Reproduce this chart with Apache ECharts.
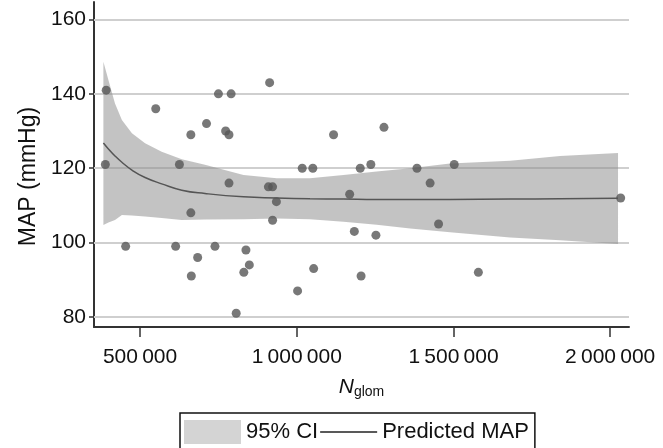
<!DOCTYPE html>
<html>
<head>
<meta charset="utf-8">
<script src="https://cdn.jsdelivr.net/npm/echarts@6/dist/echarts.min.js"></script>
<style>
  html, body { margin: 0; padding: 0; background: #fff; }
  #chart { width: 663px; height: 448px; }
</style>
</head>
<body>
<div id="chart"></div>
<script>
// Observed points (Nglom, MAP)
var pointsX = [391900, 389200, 454000, 550000, 613500, 625600, 662000, 662000, 663500, 683700,
               712000, 739000, 750000, 773000, 783700, 790500, 783700, 806700, 831000, 837800,
               848600, 913400, 909400, 922800, 922800, 935000, 1002600, 1017400, 1051200, 1053900,
               1117400, 1168700, 1183600, 1202500, 1205200, 1236300, 1252500, 1278200, 1383500, 1425400,
               1452400, 1502400, 1579400, 2033400];
var pointsY = [141, 121, 99, 136, 99, 121, 129, 108, 91, 96,
               132, 99, 140, 130, 129, 140, 116, 81, 92, 98,
               94, 143, 115, 115, 106, 111, 87, 120, 120, 93,
               129, 113, 103, 120, 91, 121, 102, 131, 120, 116,
               105, 121, 92, 112];

// Fitted curve and 95% CI band
var fitX = [383000, 399000, 420000, 442000, 474000, 516000, 569000, 633000, 707000, 830000,
            936000, 1042000, 1149000, 1255000, 1362000, 1489000, 1681000, 1840000, 2025000];
var ciUpper = [148.6, 143.7, 137.4, 133.0, 129.4, 126.7, 124.4, 122.4, 120.9, 118.2,
               117.3, 117.3, 118.2, 119.1, 120.0, 121.3, 122.0, 123.3, 124.1];
var ciLower = [104.7, 105.4, 106.1, 107.4, 107.3, 107.0, 106.6, 106.1, 106.2, 106.3,
               106.5, 106.3, 105.6, 104.8, 103.8, 102.8, 101.4, 100.6, 99.6];
var predicted = [126.8, 125.2, 123.3, 121.6, 119.5, 117.5, 115.8, 114.1, 113.2, 112.3,
                 112.0, 111.8, 111.7, 111.6, 111.6, 111.6, 111.7, 111.8, 111.9];

var xTicks = [500000, 1000000, 1500000, 2000000];
var yTicks = [80, 100, 120, 140, 160];

var font = 'Liberation Sans, Arial, Helvetica, sans-serif';

function fmtThousands(v) {
    return String(v).replace(/\B(?=(\d{3})+(?!\d))/g, '\u2009');
}

var chart = echarts.init(document.getElementById('chart'));

var scatterData = pointsX.map(function(x, i) { return [x, pointsY[i]]; });
var predData = fitX.map(function(x, i) { return [x, predicted[i]]; });

// band polygon: upper edge left->right, lower edge right->left
var renderBand = function(params, api) {
    var pts = [];
    for (var i = 0; i < fitX.length; i++) {
        pts.push(api.coord([fitX[i], ciUpper[i]]));
    }
    for (var j = fitX.length - 1; j >= 0; j--) {
        pts.push(api.coord([fitX[j], ciLower[j]]));
    }
    return {
        type: 'polygon',
        shape: { points: pts },
        style: { fill: 'rgba(140,140,140,0.52)' }
    };
};

chart.setOption({
    animation: false,
    textStyle: { fontFamily: font },

    grid: { left: 94, right: 34, top: 2, bottom: 121 },

    legend: {
        left: 180,
        top: 413,
        orient: 'horizontal',
        selectedMode: false,
        borderColor: '#111',
        borderWidth: 1.5,
        borderRadius: 0,
        padding: [7, 6, 7, 4],
        itemWidth: 57,
        itemHeight: 24,
        itemGap: 2,
        textStyle: { fontFamily: font, fontSize: 22, color: '#111' },
        data: [
            { name: '95% CI', icon: 'rect', itemStyle: { color: '#d4d4d4', borderWidth: 0 } },
            { name: 'Predicted MAP', icon: 'path://M0,0L57,0L57,1.6L0,1.6Z', itemStyle: { color: '#222', borderWidth: 0 } }
        ]
    },

    xAxis: {
        type: 'value',
        min: 353000,
        max: 2060000,
        name: '{n|N}{s|glom}',
        nameLocation: 'middle',
        nameGap: 50,
        nameTextStyle: {
            rich: {
                n: { fontFamily: font, fontSize: 21, fontStyle: 'italic', color: '#111', lineHeight: 22, verticalAlign: 'top' },
                s: { fontFamily: font, fontSize: 14, color: '#111', lineHeight: 20, verticalAlign: 'bottom', padding: [8, 0, 0, 0] }
            }
        },
        axisLine: { lineStyle: { color: '#333', width: 2 } },
        axisTick: { show: true, length: 10, lineStyle: { color: '#333', width: 1.5 }, customValues: xTicks },
        axisLabel: {
            customValues: xTicks,
            margin: 20,
            fontSize: 21,
            color: '#111',
            formatter: function(v) { return fmtThousands(v); }
        },
        splitLine: { show: false }
    },

    yAxis: {
        type: 'value',
        min: 77.3,
        max: 164.7,
        name: 'MAP (mmHg)',
        nameLocation: 'middle',
        nameGap: 47,
        nameTextStyle: { fontSize: 23, color: '#111', padding: [0, 0, 0, -24] },
        axisLine: { show: true, lineStyle: { color: '#333', width: 2 } },
        axisTick: { show: true, length: 5, lineStyle: { color: '#333', width: 1.5 }, customValues: yTicks },
        axisLabel: { customValues: yTicks, margin: 8, fontSize: 21, color: '#111' },
        splitLine: { show: false }
    },

    series: [
        {
            name: '95% CI',
            type: 'custom',
            renderItem: renderBand,
            data: [[fitX[0], ciLower[0]]],
            silent: true,
            itemStyle: { color: '#d4d4d4' },
            z: 2
        },
        {
            name: 'Predicted MAP',
            type: 'line',
            data: predData,
            symbol: 'none',
            smooth: true,
            lineStyle: { color: '#555', width: 1.5 },
            z: 3,
            markLine: {
                silent: true,
                symbol: 'none',
                z: 1,
                label: { show: false },
                lineStyle: { color: '#cfcfcf', width: 2, type: 'solid' },
                data: yTicks.map(function(v) { return { yAxis: v }; })
            }
        },
        {
            name: 'points',
            type: 'scatter',
            data: scatterData,
            symbolSize: 9,
            itemStyle: { color: '#565656' },
            z: 4
        }
    ]
});
</script>
</body>
</html>
